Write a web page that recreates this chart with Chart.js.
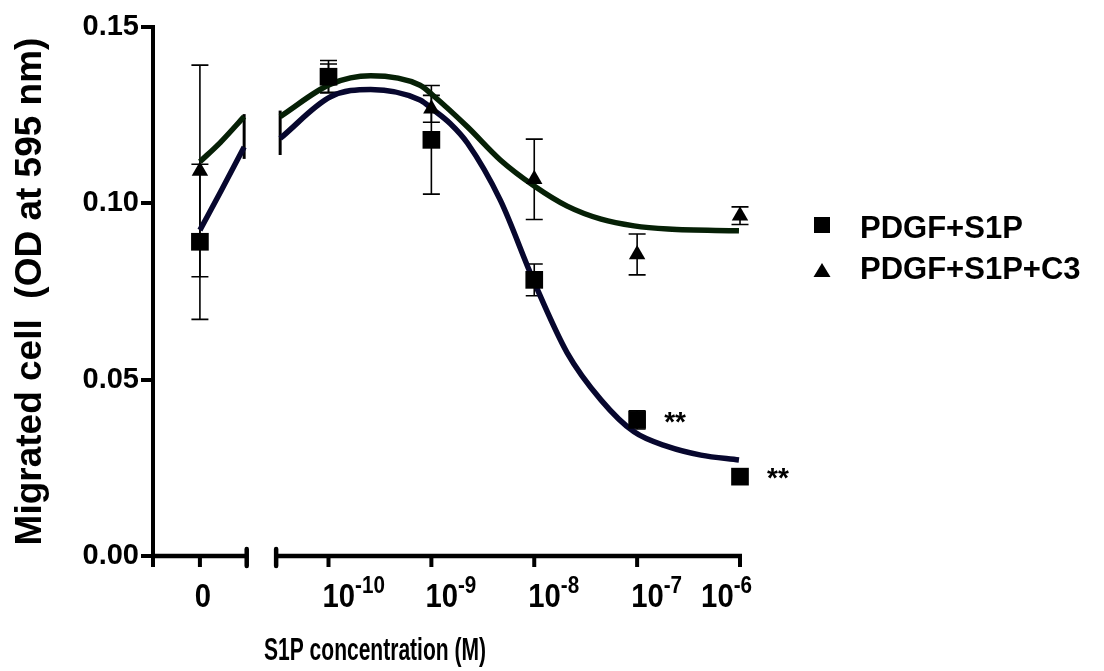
<!DOCTYPE html>
<html><head><meta charset="utf-8">
<script src="https://cdn.jsdelivr.net/npm/chart.js@4.4.1/dist/chart.umd.min.js"></script>
<style>html,body{margin:0;padding:0;background:#fff;}#wrap{width:1104px;height:671px;position:relative;}</style>
</head><body><div id="wrap"><canvas id="c" width="1104" height="671"></canvas></div>
<script>
// ---- data ----
const concentrations = [0, 1e-10, 1e-9, 1e-8, 1e-7, 1e-6];       // S1P (M); 0 = no S1P
const seriesNames = ['PDGF+S1P', 'PDGF+S1P+C3'];
const meanS1P = [0.0891, 0.1359, 0.1180, 0.0783, 0.0386, 0.0225];
const semS1P  = [0.0220, 0.0046, 0.0154, 0.0045, 0.0026, 0.0000];
const meanC3  = [0.1092, 0.1355, 0.1268, 0.1068, 0.0855, 0.0965];
const semC3   = [0.0300, 0.0040, 0.0038, 0.0114, 0.0058, 0.0025];
const sigS1P  = ['', '', '', '', '**', '**'];
// fitted curves (x = log10 M)
const fitLogS1P = [-10.47, -9.98, -9.59, -9.11, -8.98, -8.82, -8.65, -8.33, -8.01, -7.68, -7.35, -7.03, -6.70, -6.38, -6.01];
const fitS1P    = [0.1184, 0.1302, 0.1323, 0.1293, 0.1265, 0.1227, 0.1171, 0.1009, 0.0783, 0.0576, 0.0442, 0.0352, 0.0310, 0.0286, 0.0272];
const fitLogC3  = [-10.47, -9.98, -9.59, -9.11, -8.98, -8.65, -8.33, -8.00, -7.68, -7.35, -7.03, -6.70, -6.01];
const fitC3     = [0.1246, 0.1338, 0.1362, 0.1335, 0.1305, 0.1217, 0.1123, 0.1049, 0.0992, 0.0955, 0.0936, 0.0927, 0.0922];
// curve pieces left of the axis break (axis units of the break region)
const fitLeftPos = [-11.25, -11.05, -10.82];
const fitLeftS1P = [0.0924, 0.1032, 0.1160];
const fitLeftC3  = [0.1118, 0.1173, 0.1246];
const breakCapLeft  = [0.1126, 0.1253];
const breakCapRight = [0.1137, 0.1263];
// ticks
const yTicks = [0, 0.05, 0.10, 0.15];
const yTickLabels = ['0.00', '0.05', '0.10', '0.15'];
const xTickBase = ['0', '10', '10', '10', '10', '10'];
const xTickExp  = ['', '-10', '-9', '-8', '-7', '-6'];
const xTitle = 'S1P concentration (M)';
const yTitle = 'Migrated cell  (OD at 595 nm)';

// ---- axis layout (positions on the broken log axis) ----
const ZERO_POS = -11.25, X_MIN = -11.706, X_MAX = -6, BREAK_L = -10.795, BREAK_R = -10.509;
const xpos = c => c === 0 ? ZERO_POS : Math.log10(c);
const F = 'Liberation Sans, Arial, Helvetica, sans-serif';

const pts = (m) => concentrations.map((c, i) => ({x: xpos(c), y: m[i]}));
const curve = (xs, ys) => xs.map((v, i) => ({x: v, y: ys[i]}));

function squeezedText(ctx, text, x, y, sx) {
  ctx.save(); ctx.translate(x, y); ctx.scale(sx, 1); ctx.fillText(text, 0, 0); ctx.restore();
}

const custom = {
  id: 'custom',
  beforeDatasetsDraw(chart) {
    const {ctx, scales: {x, y}} = chart;
    ctx.save();
    ctx.strokeStyle = '#000'; ctx.lineWidth = 1.6;
    [[meanS1P, semS1P], [meanC3, semC3]].forEach(([m, s]) => {
      m.forEach((v, i) => {
        if (!s[i]) return;
        const px = x.getPixelForValue(xpos(concentrations[i]));
        const t = y.getPixelForValue(v + s[i]), b = y.getPixelForValue(v - s[i]);
        ctx.beginPath();
        ctx.moveTo(px, t); ctx.lineTo(px, b);
        ctx.moveTo(px - 8.5, t); ctx.lineTo(px + 8.5, t);
        ctx.moveTo(px - 8.5, b); ctx.lineTo(px + 8.5, b);
        ctx.stroke();
      });
    });
    // break caps on the curves
    ctx.lineWidth = 3;
    [[fitLeftPos[fitLeftPos.length - 1], breakCapLeft], [fitLogS1P[0], breakCapRight]].forEach(([p, r]) => {
      const px = x.getPixelForValue(p);
      ctx.beginPath(); ctx.moveTo(px, y.getPixelForValue(r[0])); ctx.lineTo(px, y.getPixelForValue(r[1])); ctx.stroke();
    });
    ctx.restore();
  },
  afterDraw(chart) {
    const {ctx, scales: {x, y}, chartArea} = chart;
    const y0 = y.getPixelForValue(0);
    ctx.save();
    ctx.strokeStyle = '#000'; ctx.fillStyle = '#000';
    // x axis with break
    ctx.lineWidth = 4.5; ctx.lineCap = 'butt';
    const bl = x.getPixelForValue(BREAK_L), br = x.getPixelForValue(BREAK_R);
    ctx.beginPath();
    ctx.moveTo(chartArea.left - 2, y0); ctx.lineTo(bl, y0);
    ctx.moveTo(br, y0); ctx.lineTo(chartArea.right + 2, y0);
    ctx.stroke();
    ctx.lineCap = 'round';
    ctx.beginPath();
    ctx.moveTo(bl, y0 - 7); ctx.lineTo(bl, y0 + 10);
    ctx.moveTo(br, y0 - 7); ctx.lineTo(br, y0 + 10);
    ctx.stroke();
    ctx.lineCap = 'butt'; ctx.lineWidth = 4;
    ctx.beginPath();
    ctx.moveTo(chartArea.left, y0); ctx.lineTo(chartArea.left, y0 + 11);
    concentrations.forEach(c => {
      const px = x.getPixelForValue(xpos(c));
      ctx.moveTo(px, y0); ctx.lineTo(px, y0 + 11);
    });
    ctx.stroke();
    // x tick labels with superscripts (condensed)
    const SX = 0.86;
    ctx.textBaseline = 'alphabetic'; ctx.textAlign = 'left';
    concentrations.forEach((c, i) => {
      const px = x.getPixelForValue(xpos(c));
      ctx.font = 'bold 34px ' + F;
      const wb = ctx.measureText(xTickBase[i]).width * SX;
      ctx.font = 'bold 24px ' + F;
      const we = ctx.measureText(xTickExp[i]).width * SX;
      let left;
      if (!xTickExp[i]) left = px - wb / 2 + 3;
      else left = Math.min(px - 6, chartArea.right + 12 - wb - we);
      ctx.font = 'bold 34px ' + F;
      squeezedText(ctx, xTickBase[i], left, 607, SX);
      ctx.font = 'bold 24px ' + F;
      squeezedText(ctx, xTickExp[i], left + wb, 593, SX);
    });
    // x title (condensed)
    ctx.font = 'bold 31px ' + F; ctx.textAlign = 'left'; ctx.textBaseline = 'middle';
    const tw = ctx.measureText(xTitle).width;
    const tsx = 222 / tw;
    squeezedText(ctx, xTitle, 375 - 111, 651, tsx);
    // significance marks
    ctx.font = 'bold 28px ' + F; ctx.textAlign = 'left';
    sigS1P.forEach((s, i) => {
      if (!s) return;
      const px = x.getPixelForValue(xpos(concentrations[i])), py = y.getPixelForValue(meanS1P[i]);
      ctx.fillText(s, px + 27, py + 3);
    });
    // legend
    ctx.font = 'bold 31px ' + F; ctx.textBaseline = 'middle'; ctx.textAlign = 'left';
    ctx.fillRect(814, 217, 16, 16);
    ctx.fillText(seriesNames[0], 860, 229);
    ctx.beginPath(); ctx.moveTo(822, 263); ctx.lineTo(830.5, 277); ctx.lineTo(813.5, 277); ctx.closePath(); ctx.fill();
    ctx.fillText(seriesNames[1], 860, 270);
    ctx.restore();
  }
};

new Chart(document.getElementById('c'), {
  type: 'scatter',
  data: {
    datasets: [
      {label: seriesNames[0], data: pts(meanS1P), pointStyle: 'rect', pointRadius: 12.5, backgroundColor: '#000', borderColor: '#000', borderWidth: 0, order: 0, clip: false},
      {label: seriesNames[1], data: pts(meanC3), pointStyle: 'triangle', pointRadius: 9.5, backgroundColor: '#000', borderColor: '#000', borderWidth: 0, order: 0, clip: false},
      {label: 'fit1', type: 'line', data: curve(fitLogS1P, fitS1P), borderColor: '#07072e', borderWidth: 5.5, pointRadius: 0, cubicInterpolationMode: 'monotone', fill: false, order: 1, clip: false},
      {label: 'fit2', type: 'line', data: curve(fitLogC3, fitC3), borderColor: '#062006', borderWidth: 5.5, pointRadius: 0, cubicInterpolationMode: 'monotone', fill: false, order: 1, clip: false},
      {label: 'fit1a', type: 'line', data: curve(fitLeftPos, fitLeftS1P), borderColor: '#07072e', borderWidth: 5.5, pointRadius: 0, cubicInterpolationMode: 'monotone', fill: false, order: 1, clip: false},
      {label: 'fit2a', type: 'line', data: curve(fitLeftPos, fitLeftC3), borderColor: '#062006', borderWidth: 5.5, pointRadius: 0, cubicInterpolationMode: 'monotone', fill: false, order: 1, clip: false}
    ]
  },
  options: {
    responsive: false, animation: false, devicePixelRatio: 1,
    layout: {padding: {left: 0, top: 27, right: 364, bottom: 0}},
    plugins: {legend: {display: false}, tooltip: {enabled: false}},
    scales: {
      x: {
        type: 'linear', min: X_MIN, max: X_MAX,
        grid: {display: false}, border: {display: false}, ticks: {display: false},
        afterFit(s) { s.height = 115; s.paddingLeft = 0; s.paddingRight = 0; }
      },
      y: {
        type: 'linear', min: 0, max: 0.15,
        afterBuildTicks(s) { s.ticks = yTicks.map(v => ({value: v})); },
        ticks: {color: '#000', padding: 2, font: {family: F, size: 29, weight: 'bold'},
          callback: (v, i) => yTickLabels[i]},
        grid: {drawOnChartArea: false, color: '#000', lineWidth: 4, tickLength: 12},
        border: {display: true, color: '#000', width: 4},
        title: {display: true, text: yTitle, color: '#000', padding: {top: 9}, font: {family: F, size: 37, weight: 'bold'}},
        afterFit(s) { s.width = 153; s.paddingTop = 0; s.paddingBottom = 0; }
      }
    }
  },
  plugins: [custom]
});
</script></body></html>
